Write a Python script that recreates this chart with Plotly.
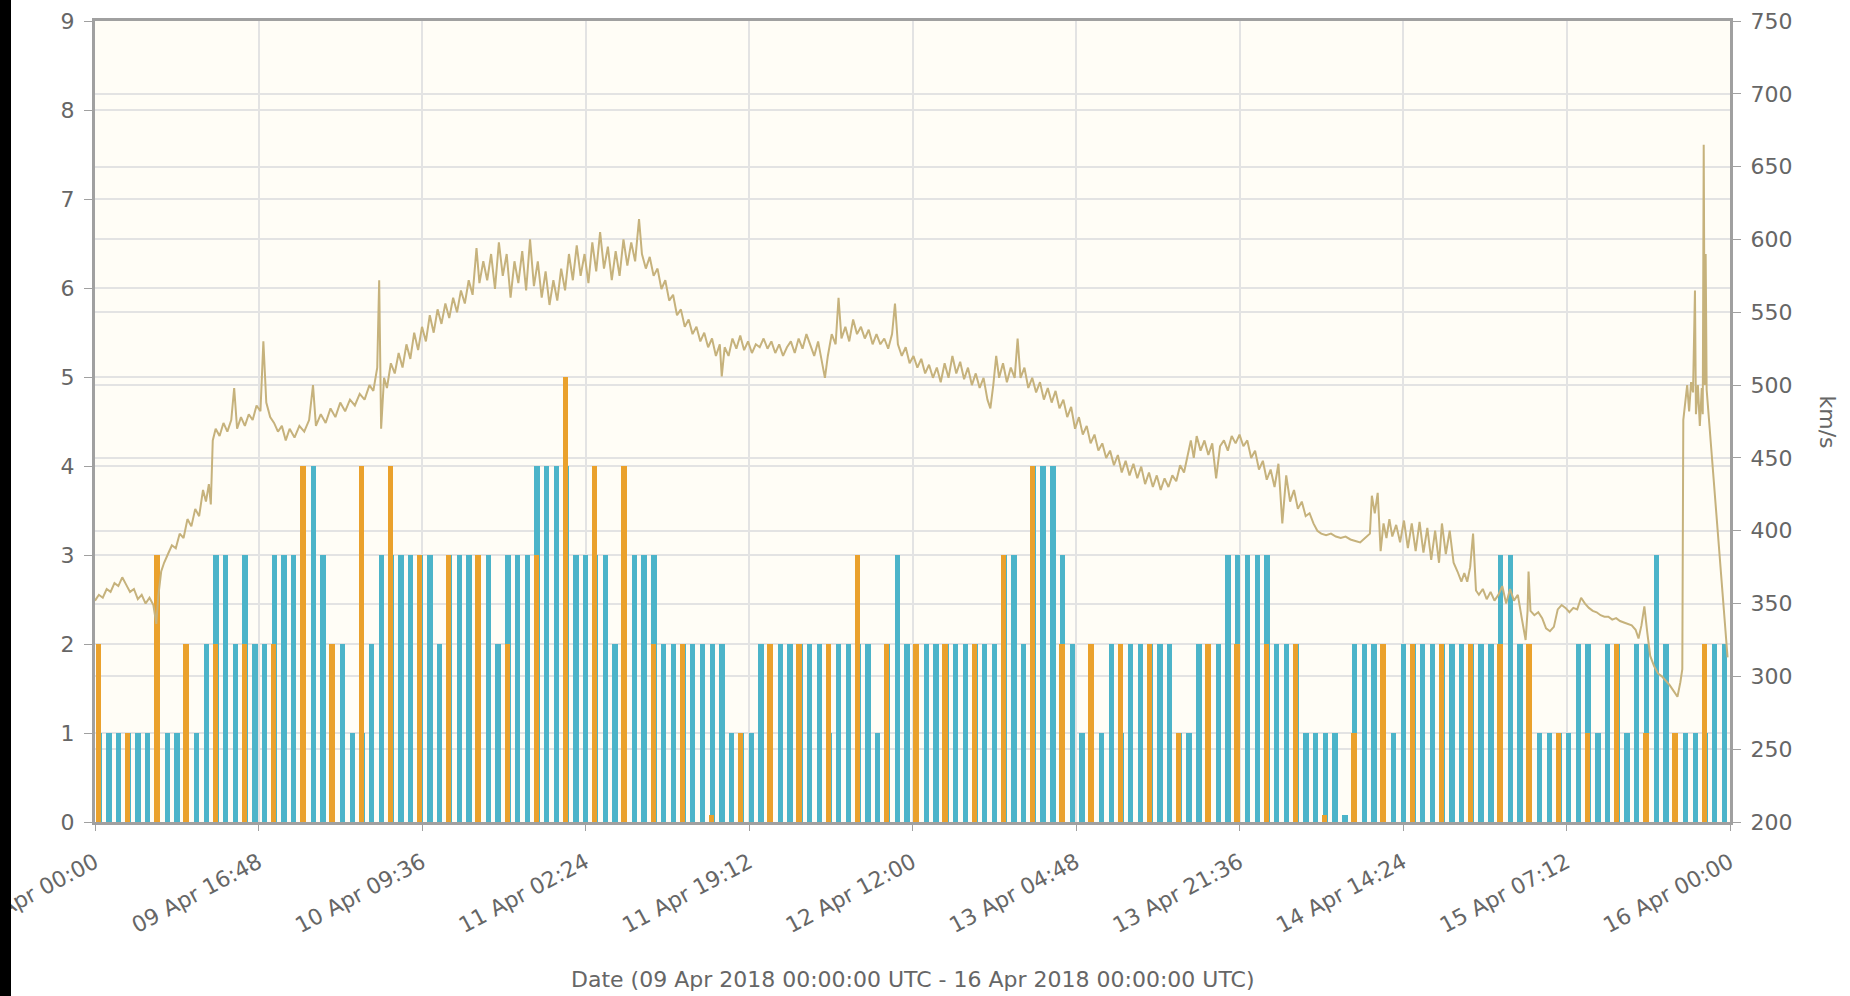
import plotly.graph_objects as go
from datetime import datetime, timedelta

start = datetime(2018, 4, 9)

# hourly Kp estimate (teal), one value per hour from 09 Apr 00:00
kp_hourly = [
    1, 1, 1, 1, 1, 1, 1, 1, 1, 1,
    1, 2, 3, 3, 2, 3, 2, 2, 3, 3,
    3, 4, 4, 3, 2, 2, 1, 1, 2, 3,
    3, 3, 3, 3, 3, 2, 3, 3, 3, 3,
    3, 2, 3, 3, 3, 4, 4, 4, 4, 3,
    3, 3, 3, 2, 2, 3, 3, 3, 2, 2,
    2, 2, 2, 2, 2, 1, 1, 1, 2, 2,
    2, 2, 2, 2, 2, 1, 2, 2, 2, 2,
    1, 2, 3, 2, 2, 2, 2, 2, 2, 2,
    2, 2, 2, 3, 3, 2, 4, 4, 4, 3,
    2, 1, 2, 1, 2, 1, 2, 2, 2, 2,
    2, 1, 1, 2, 1, 2, 3, 3, 3, 3,
    3, 2, 2, 2, 1, 1, 1, 1, 0.08, 2,
    2, 2, 2, 1, 2, 2, 2, 2, 2, 2,
    2, 2, 2, 2, 3, 3, 2, 2, 1, 1,
    1, 1, 2, 2, 1, 2, 2, 1, 2, 2,
    3, 2, 1, 1, 1, 1, 2, 2,
]

# 3-hourly Kp (orange), one value every 3 hours
kp_3hour = [
    2, 1, 3, 2, 2, 2, 2, 4, 2, 4,
    4, 3, 3, 3, 2, 3, 5, 4, 4, 2,
    2, 0.08, 1, 2, 2, 2, 3, 2, 2, 2,
    2, 3, 4, 2, 2, 2, 2, 1, 2, 2,
    2, 2, 0.08, 1, 2, 2, 2, 2, 2, 2,
    1, 1, 2, 1, 1, 2,
]

# solar wind speed (km/s), hours since 09 Apr 00:00
speed_hours = [
    0.0, 0.4, 0.8, 1.2, 1.6, 2.0, 2.4, 2.8, 3.2, 3.6, 4.0, 4.4, 4.8, 5.2, 5.6, 6.0, 6.3, 6.5, 6.8,
    7.1, 7.5, 7.9, 8.3, 8.7, 9.1, 9.5, 9.9, 10.3, 10.7, 11.1, 11.4, 11.7, 11.9, 12.1,
    12.4, 12.8, 13.2, 13.6, 14.0, 14.3, 14.6, 15.0, 15.4, 15.8, 16.2, 16.6, 17.0, 17.3, 17.6,
    18.0, 18.4, 18.8, 19.2, 19.6, 20.0, 20.5, 21.0, 21.5, 22.0, 22.4, 22.7, 23.2, 23.7, 24.2,
    24.7, 25.2, 25.7, 26.2, 26.7, 27.2, 27.7, 28.2, 28.6, 29.0, 29.2, 29.4, 29.7, 30.0,
    30.4, 30.8, 31.2, 31.6, 32.0, 32.4, 32.8, 33.2, 33.6, 34.0, 34.4, 34.8, 35.2, 35.6, 36.0,
    36.4, 36.8, 37.2, 37.6, 38.0, 38.4, 38.8, 39.2, 39.5, 39.9, 40.3, 40.7, 41.1, 41.5, 41.9,
    42.3, 42.7, 43.1, 43.5, 43.9, 44.3, 44.7, 45.1, 45.5, 45.9, 46.3, 46.7, 47.1, 47.5, 47.9,
    48.3, 48.7, 49.1, 49.5, 49.9, 50.3, 50.7, 51.1, 51.5, 51.9, 52.3, 52.7, 53.1, 53.5, 53.9,
    54.3, 54.7, 55.1, 55.5, 55.9, 56.2,
    56.6, 57.0, 57.4, 57.8, 58.2, 58.6, 59.0, 59.4, 59.8, 60.2, 60.6, 61.0, 61.4, 61.8, 62.2,
    62.6, 63.0, 63.4, 63.8, 64.2, 64.4, 64.7, 65.1, 65.5, 65.9, 66.3, 66.7, 67.1, 67.5, 67.9,
    68.3, 68.7, 69.1, 69.5, 69.9, 70.3, 70.7, 71.1, 71.5, 71.9, 72.3, 72.7, 73.1, 73.5, 73.9,
    74.3, 74.7, 75.0, 75.3, 75.7, 76.1, 76.4, 76.7, 77.1, 77.5, 77.9, 78.3, 78.7, 79.1, 79.5,
    79.9, 80.3, 80.7, 81.1, 81.5, 81.9, 82.2, 82.5, 82.9, 83.3, 83.7, 84.1, 84.5, 84.9, 85.3,
    85.7, 86.1, 86.5, 86.9, 87.3, 87.7, 88.1, 88.5, 88.9, 89.3, 89.7, 90.1,
    90.5, 90.9, 91.3, 91.7, 92.0, 92.3, 92.6, 92.9, 93.3, 93.7, 94.1, 94.5, 94.8, 95.1, 95.5,
    95.9, 96.3, 96.7, 97.1, 97.5, 97.9, 98.3, 98.7, 99.1, 99.5, 99.9, 100.3, 100.7, 101.1, 101.5,
    101.9, 102.3, 102.7, 103.1, 103.5, 103.9, 104.3, 104.7, 105.1, 105.5, 105.9, 106.3, 106.7,
    107.1, 107.5, 107.9, 108.3, 108.7, 109.1, 109.5, 109.9, 110.3, 110.7, 111.1, 111.5, 111.9,
    112.3, 112.6, 112.9, 113.2, 113.6, 114.0, 114.4, 114.8, 115.2, 115.6, 116.0, 116.4, 116.8,
    117.2, 117.6, 118.0, 118.4, 118.8, 119.2, 119.6, 120.0, 120.4, 120.8, 121.2, 121.6, 122.0,
    122.4, 122.8, 123.2, 123.6, 124.0, 124.4, 124.8, 125.2, 125.6,
    126.0, 126.5, 127.0, 127.5, 128.0, 128.5, 129.0, 129.5, 130.0, 130.5, 131.0, 131.2, 131.5,
    131.8, 132.1, 132.4, 132.7, 133.0, 133.3, 133.7, 134.1, 134.5, 134.9, 135.3, 135.7, 136.1,
    136.5, 136.9, 137.3, 137.7, 138.1, 138.4, 138.8, 139.2, 139.6, 140.0, 140.4, 140.7,
    141.0, 141.3, 141.6, 141.9, 142.2, 142.6, 143.0, 143.4, 143.8, 144.2, 144.6, 145.0, 145.4,
    145.8, 146.2, 146.6, 147.0, 147.2, 147.3, 147.5, 147.9, 148.3, 148.7, 149.1, 149.5, 149.9,
    150.3, 150.7, 151.1, 151.5, 151.9, 152.3, 152.7, 153.1, 153.5, 153.9, 154.3, 154.7, 155.1,
    155.5, 155.9, 156.3, 156.7, 157.1, 157.5, 157.9, 158.3, 158.6, 158.9, 159.2, 159.5, 159.8,
    160.2, 160.6, 161.0, 161.4, 161.8, 162.2, 162.6, 162.9, 163.1, 163.2, 163.4, 163.6, 163.8,
    164.0, 164.2, 164.4, 164.5, 164.7, 164.9, 165.1, 165.2, 165.3, 165.4, 165.5, 165.6, 167.75,
]
speed_kms = [
    352, 356, 354, 360, 358, 364, 362, 368, 363, 358, 360, 353, 356, 350, 354, 349, 336, 355, 372,
    378, 384, 390, 388, 398, 395, 408, 403, 415, 410, 428, 420, 432, 418, 462,
    470, 465, 474, 468, 476, 498, 470, 478, 472, 480, 476, 486, 482, 530, 488,
    478, 474, 468, 472, 462, 470, 464, 472, 468, 476, 500, 472, 480, 474, 484,
    478, 488, 482, 490, 486, 494, 490, 500, 496, 512, 572, 470, 505, 498,
    515, 508, 522, 512, 528, 518, 536, 524, 540, 530, 548, 536, 552, 542, 556,
    546, 560, 550, 565, 556, 572, 562, 594, 570, 585, 572, 590, 566, 598, 575,
    590, 560, 585, 570, 592, 565, 600, 568, 585, 560, 578, 555, 572, 558, 580,
    565, 590, 572, 596, 575, 590, 570, 598, 578, 605, 580, 595, 572, 592, 575,
    600, 582, 598, 585, 614, 590,
    580, 588, 575, 580, 566, 572, 558, 562, 548, 552, 540, 545, 535, 540, 530,
    536, 526, 532, 520, 528, 506, 526, 520, 532, 525, 534, 524, 530, 522, 528,
    526, 532, 525, 530, 522, 528, 520, 526, 530, 522, 532, 525, 535, 528, 520,
    530, 514, 505, 520, 535, 528, 560, 532, 540, 530, 545, 535, 540, 532, 538,
    528, 535, 528, 532, 525, 535, 556, 528, 520, 526, 515, 520, 512, 518, 508,
    514, 505, 512, 502, 515, 505, 520, 508, 516, 504, 512, 500,
    508, 498, 505, 490, 484, 500, 520, 505, 515, 502, 512, 505, 532, 505, 512,
    498, 505, 495, 502, 490, 498, 488, 496, 484, 490, 478, 485, 470, 478, 466,
    472, 460, 466, 455, 460, 450, 455, 445, 452, 440, 448, 438, 446,
    436, 444, 432, 440, 430, 438, 428, 436, 430, 438, 434, 445, 440,
    452, 462, 450, 465, 455, 462, 452, 460, 436, 458, 462, 455, 465,
    460, 466, 458, 462, 450, 455, 442, 448, 435, 442, 430, 446, 405,
    438, 420, 428, 415, 420, 410, 412, 405, 400,
    398, 397, 398, 396, 395, 396, 394, 393, 392, 395, 398, 424, 412,
    426, 386, 405, 395, 408, 396, 404, 392, 407, 388, 405, 386, 406,
    385, 402, 380, 400, 378, 405, 384, 400, 378, 372, 365, 371,
    365, 375, 398, 359, 356, 360, 353, 358, 352, 356, 362, 350, 360,
    352, 356, 340, 325, 345, 372, 345, 342, 344, 340, 333, 331, 334,
    346, 349, 347, 344, 347, 346, 354, 350, 347, 345, 344, 342, 341,
    341, 339, 340, 338, 337, 336, 335, 332, 326, 335, 348, 330, 314,
    307, 302, 300, 297, 294, 290, 286, 296, 305, 476, 488, 500, 482,
    502, 495, 565, 480, 500, 472, 498, 480, 665, 500, 590, 497, 313,
]

tick_labels = [
    "09 Apr 00:00", "09 Apr 16:48", "10 Apr 09:36", "11 Apr 02:24", "11 Apr 19:12",
    "12 Apr 12:00", "13 Apr 04:48", "13 Apr 21:36", "14 Apr 14:24", "15 Apr 07:12",
    "16 Apr 00:00",
]

HOUR_MS = 3600 * 1000
GREY = "#666666"
AXIS = "#a0a0a0"
GRID = "#e3e3e3"
FONT = "DejaVu Sans, Verdana, sans-serif"
FS = 22

# page geometry (px)
W, H = 1850, 996
ML, MR, MT, MB = 95, 120, 21, 174
PW, PH = W - ML - MR, H - MT - MB

fig = go.Figure()

fig.add_trace(go.Bar(
    x=[start + timedelta(hours=k) for k in range(len(kp_hourly))],
    y=kp_hourly,
    width=0.55 * HOUR_MS,
    offset=0.15 * HOUR_MS,
    marker=dict(color="#4cb4c9", line=dict(width=0)),
    name="Kp 1h",
))
fig.add_trace(go.Bar(
    x=[start + timedelta(hours=3 * j) for j in range(len(kp_3hour))],
    y=kp_3hour,
    width=0.55 * HOUR_MS,
    offset=0.08 * HOUR_MS,
    marker=dict(color="#eaa12c", line=dict(width=0)),
    name="Kp 3h",
))
fig.add_trace(go.Scatter(
    x=[start + timedelta(hours=h) for h in speed_hours],
    y=speed_kms,
    yaxis="y2",
    mode="lines",
    line=dict(color="#c6b27c", width=2),
    name="Speed",
))

fig.update_layout(
    width=W, height=H,
    margin=dict(l=ML, r=MR, t=MT, b=MB, autoexpand=False),
    paper_bgcolor="white",
    plot_bgcolor="#fffdf6",
    barmode="overlay",
    bargap=0,
    showlegend=False,
    font=dict(family=FONT, size=FS, color=GREY),
    xaxis=dict(
        type="date",
        range=[start, start + timedelta(days=7)],
        tickvals=[start + timedelta(hours=16.8 * i) for i in range(len(tick_labels))],
        ticktext=tick_labels,
        tickangle=-28,
        ticks="outside", ticklen=6, tickcolor=AXIS,
        ticklabelstandoff=10,
        ticklabeloverflow="allow",
        showgrid=True, gridcolor=GRID, gridwidth=1.5,
        showline=True, linecolor=AXIS, linewidth=3, mirror=True,
        zeroline=False, automargin=False,
        tickfont=dict(size=FS, color=GREY),
    ),
    yaxis=dict(
        range=[0, 9], dtick=1,
        ticks="outside", ticklen=8, tickcolor=AXIS,
        showgrid=True, gridcolor=GRID, gridwidth=1.5,
        showline=True, linecolor=AXIS, linewidth=3,
        zeroline=False, automargin=False,
        ticklabelstandoff=5,
        tickfont=dict(size=FS, color=GREY),
    ),
    yaxis2=dict(
        range=[200, 750], dtick=50,
        overlaying="y", side="right",
        ticks="outside", ticklen=8, tickcolor=AXIS,
        showgrid=True, gridcolor=GRID, gridwidth=1.5,
        showline=True, linecolor=AXIS, linewidth=3,
        zeroline=False, automargin=False,
        ticklabelstandoff=5,
        tickfont=dict(size=FS, color=GREY),
    ),
    annotations=[
        dict(text="km/s", xref="paper", yref="paper",
             x=(1827 - ML) / PW, y=0.5, xanchor="center", yanchor="middle",
             textangle=90, showarrow=False,
             font=dict(size=FS, color=GREY)),
        dict(text="Date (09 Apr 2018 00:00:00 UTC - 16 Apr 2018 00:00:00 UTC)",
             xref="paper", yref="paper", x=0.5, y=-(979 - MT - PH) / PH,
             xanchor="center", yanchor="middle",
             showarrow=False, font=dict(size=FS, color=GREY)),
    ],
    shapes=[
        dict(type="rect", xref="paper", yref="paper", layer="above",
             x0=-ML / PW, x1=-(ML - 11) / PW, y0=-MB / PH, y1=1 + MT / PH,
             fillcolor="black", line=dict(width=0)),
    ],
)

fig.write_html("out.html", config={"displayModeBar": False},
               post_script="document.body.style.margin='0';")
